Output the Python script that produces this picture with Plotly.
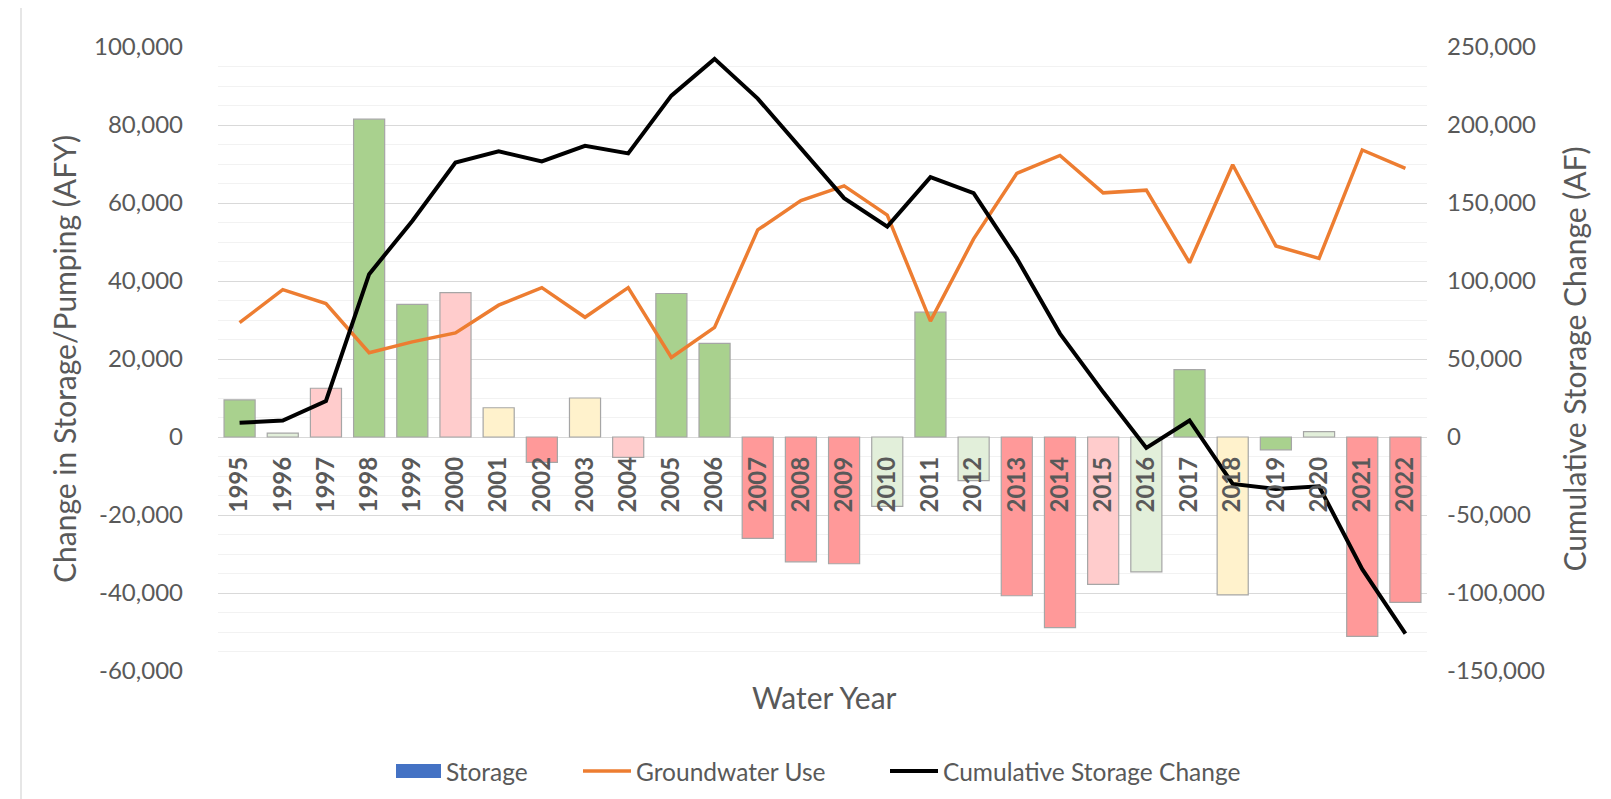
import plotly.graph_objects as go

years = [str(y) for y in range(1995, 2023)]

storage = [9500, 1000, 12500, 81500, 34000, 37000, 7500, -6500, 10000, -5200,
           36800, 24000, -26000, -32000, -32500, -17800, 32000, -11200, -40700, -48900,
           -37800, -34600, 17300, -40500, -3300, 1400, -51100, -42400]

year_class = ["W", "AN", "D", "W", "W", "D", "BN", "C", "BN", "D",
              "W", "W", "C", "C", "C", "AN", "W", "AN", "C", "C",
              "D", "AN", "W", "BN", "W", "AN", "C", "C"]

groundwater_use = [29300, 37800, 34200, 21600, 24400, 26700, 33800, 38300, 30700, 38300,
                   20400, 28100, 53100, 60600, 64400, 56900, 29700, 50800, 67600, 72200,
                   62600, 63300, 44700, 69800, 49000, 45800, 73600, 68900]

cumulative = [9100, 10600, 23100, 104400, 138500, 176000, 183100, 176700, 186700, 181800,
              218800, 242400, 216900, 184800, 153100, 134900, 166600, 156300, 114500, 66300,
              28800, -7000, 10600, -30100, -33300, -31600, -84700, -126000]

left_ticks = [-60000, -40000, -20000, 0, 20000, 40000, 60000, 80000, 100000]
left_tick_text = ["-60,000", "-40,000", "-20,000", "0", "20,000", "40,000", "60,000", "80,000", "100,000"]
right_ticks = [-150000, -100000, -50000, 0, 50000, 100000, 150000, 200000, 250000]
right_tick_text = ["-150,000", "-100,000", "-50,000", "0", "50,000", "100,000", "150,000", "200,000", "250,000"]

class_colors = {"W": "#A9D18E", "AN": "#E2EFDA", "BN": "#FFF2CC", "D": "#FFCCCC", "C": "#FF9999"}
bar_colors = [class_colors[c] for c in year_class]

TXT = "#595959"
FONT = "Lato"

fig = go.Figure()

fig.add_trace(go.Bar(
    x=years, y=storage, name="Storage", showlegend=False,
    marker=dict(color=bar_colors, line=dict(color="#A6A6A6", width=1.2)),
))
fig.add_trace(go.Scatter(
    x=years, y=groundwater_use, name="Groundwater Use", mode="lines", showlegend=False,
    line=dict(color="#ED7D31", width=3.5),
))
fig.add_trace(go.Scatter(
    x=years, y=cumulative, name="Cumulative Storage Change", mode="lines", showlegend=False,
    line=dict(color="#000000", width=4), yaxis="y2",
))

W, H = 1611, 799
L, R, T, B = 210, 192, 39, 136
pw, ph = W - L - R, H - T - B

def px_x(x):
    return (x - L) / pw

def px_y(y):
    return (H - B - y) / ph

# legend drawn as shapes + text, laid out like the original chart's legend
legend_y = 763
legend_shapes = [
    dict(type="rect", xref="paper", yref="paper", x0=px_x(388), x1=px_x(433),
         y0=px_y(770), y1=px_y(756), fillcolor="#4472C4", line=dict(width=0)),
    dict(type="line", xref="paper", yref="paper", x0=px_x(575), x1=px_x(623),
         y0=px_y(legend_y), y1=px_y(legend_y), line=dict(color="#ED7D31", width=3.5)),
    dict(type="line", xref="paper", yref="paper", x0=px_x(882), x1=px_x(930),
         y0=px_y(legend_y), y1=px_y(legend_y), line=dict(color="#000000", width=4)),
]
legend_labels = [("Storage", 436), ("Groundwater Use", 626), ("Cumulative Storage Change", 933)]
legend_annots = [dict(text=t, xref="paper", yref="paper", x=px_x(x), y=px_y(legend_y),
                      xanchor="left", yanchor="middle", showarrow=False,
                      font=dict(family=FONT, size=24.5, color=TXT)) for t, x in legend_labels]

fig.update_layout(
    width=W, height=H,
    margin=dict(l=L, r=R, t=T, b=B, autoexpand=False),
    paper_bgcolor="white", plot_bgcolor="white",
    font=dict(family=FONT, color=TXT, size=24),
    barmode="overlay", bargap=0.28,
    showlegend=False,
    xaxis=dict(
        type="category", anchor="free", position=60000 / 160000,
        showgrid=False, showline=False, zeroline=False,
        tickangle=-90, ticks="", ticklabelstandoff=14,
        tickfont=dict(family=FONT, size=24, color=TXT, weight="bold"),
        layer="above traces",
    ),
    yaxis=dict(
        range=[-60000, 100000], tickvals=left_ticks, ticktext=left_tick_text,
        showgrid=True, gridcolor="#D9D9D9", gridwidth=1.3,
        zeroline=True, zerolinecolor="#D9D9D9", zerolinewidth=1.3,
        minor=dict(dtick=5000, tick0=0, showgrid=True, gridcolor="#F2F2F2", gridwidth=1.3),
        showline=False, ticks="", ticklabelstandoff=34,
        tickfont=dict(family=FONT, size=24, color=TXT),
        title=dict(text="Change in Storage/Pumping (AFY)", font=dict(family=FONT, size=30, color=TXT), standoff=8),
    ),
    yaxis2=dict(
        range=[-150000, 250000], tickvals=right_ticks, ticktext=right_tick_text,
        overlaying="y", side="right",
        showgrid=False, zeroline=False, showline=False, ticks="", ticklabelstandoff=19,
        tickfont=dict(family=FONT, size=24, color=TXT),
        title=dict(text="Cumulative Storage Change (AF)", font=dict(family=FONT, size=30, color=TXT), standoff=21),
    ),
    annotations=[dict(
        text="Water Year", xref="paper", yref="paper",
        x=px_x(816.5), y=px_y(689), xanchor="center", yanchor="middle",
        showarrow=False, font=dict(family=FONT, size=30, color=TXT),
    )] + legend_annots,
    shapes=[dict(
        type="rect", xref="paper", yref="paper", layer="below",
        x0=px_x(13), x1=px_x(1608), y0=px_y(797), y1=px_y(-2),
        line=dict(color="#D9D9D9", width=1.3), fillcolor="rgba(0,0,0,0)",
    )] + legend_shapes,
)

fig.write_html("out.html")
